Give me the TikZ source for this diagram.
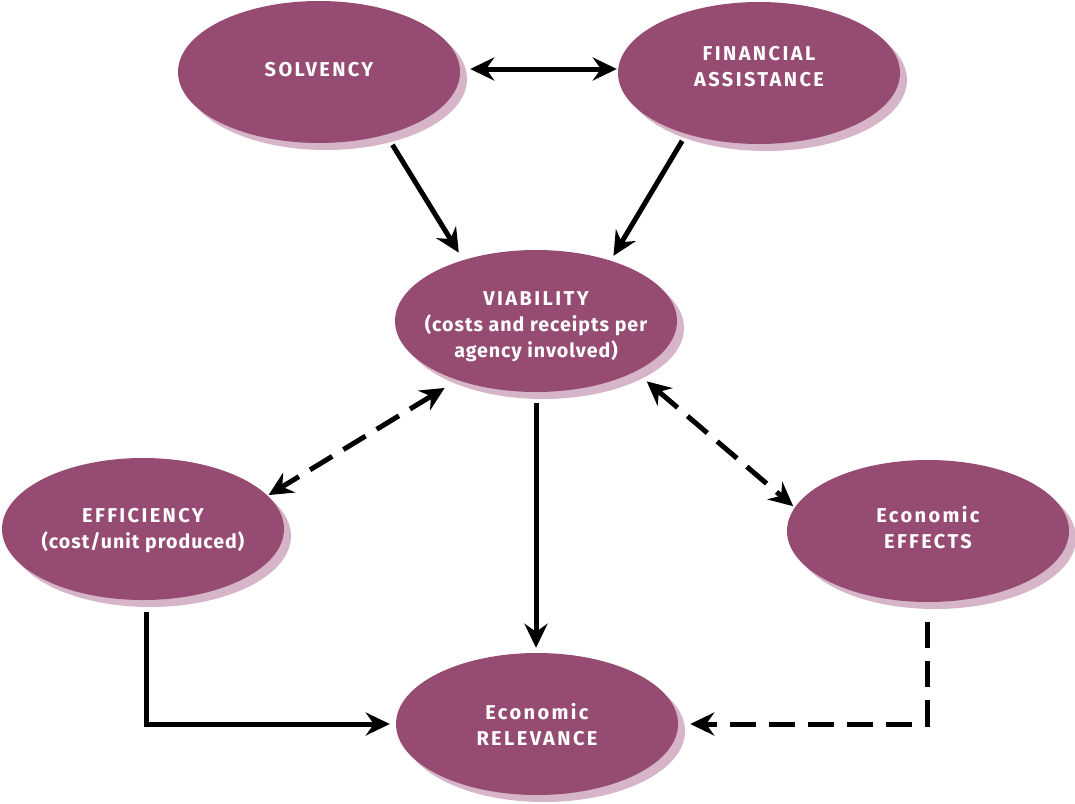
\documentclass[tikz,border=0pt]{standalone}
\usepackage{fontspec}
\setmainfont{Fira Sans}[LetterSpace=5]
\usetikzlibrary{arrows.meta,shapes.geometric,shadows}
\definecolor{plum}{RGB}{150,76,114}
\definecolor{plumshadow}{RGB}{214,181,200}
\newcommand{\ttl}[1]{{\fontsize{20}{26}\selectfont\addfontfeature{LetterSpace=12}#1}}
\begin{document}
\begin{tikzpicture}[x=1pt,y=-1pt,
  bubble/.style={ellipse, fill=plum, minimum width=282pt, minimum height=142pt, inner sep=0pt,
    drop shadow={shadow xshift=7pt, shadow yshift=-7pt, fill=plumshadow, opacity=1}},
  txt/.style={text=white, align=center, inner sep=0pt, font=\fontsize{19.6}{26}\selectfont\bfseries},
  tip/.tip={Stealth[length=24pt,width=23pt,inset=8pt]},
  link/.style={line width=5pt, -tip},
  both/.style={line width=5pt, tip-tip},
  dashline/.style={dash pattern=on 26pt off 13pt}]
\useasboundingbox (0,0) rectangle (1075,803);

\node[bubble] (sol) at (319,72) {};
\node[bubble] (fin) at (759,73) {};
\node[bubble] (vi) at (536,321) {};
\node[bubble] (ef) at (143,529) {};
\node[bubble] (ee) at (928,531) {};
\node[bubble] (er) at (537,724) {};

\node[txt] (solt) at (319,70) {\ttl{SOLVENCY}};
\node[txt] (fint) at (759,67) {\ttl{FINANCIAL}\\\ttl{ASSISTANCE}};
\node[txt] (vit) at (536,327) {\ttl{VIABILITY}\\(costs and receipts per\\agency involved)};
\node[txt] (eft) at (143,531) {\ttl{EFFICIENCY}\\(cost/unit produced)};
\node[txt] (eet) at (928,528) {\ttl{Economic}\\\ttl{EFFECTS}};
\node[txt] (ert) at (537,725) {\ttl{Economic}\\\ttl{RELEVANCE}};

\draw[both, shorten <=10pt, shorten >=1pt] ([yshift=3pt]sol.east) -- ([yshift=4pt]fin.west);
\draw[link, shorten <=12pt, shorten >=8.6pt] (sol.-43.2) -- (vi.140.5);
\draw[link, shorten <=8pt, shorten >=5.5pt] (fin.220.7) -- (vi.39.3);
\draw[both, dashline, shorten <=15pt, shorten >=1pt] (vi.217.2) -- (ef.15.1);
\draw[both, dashline, shorten <=15pt, shorten >=2pt] (vi.-27.8) -- (ee.170.3);
\draw[link, shorten <=11pt, shorten >=5pt] (vi.south) -- (vi.south |- er.north);
\draw[link, shorten <=12pt, shorten >=6pt] ([xshift=3pt]ef.south) |- (er.west);
\draw[link, dashline, shorten <=20pt, shorten >=12pt] ([xshift=-1pt]ee.south) |- (er.east);
\end{tikzpicture}
\end{document}
